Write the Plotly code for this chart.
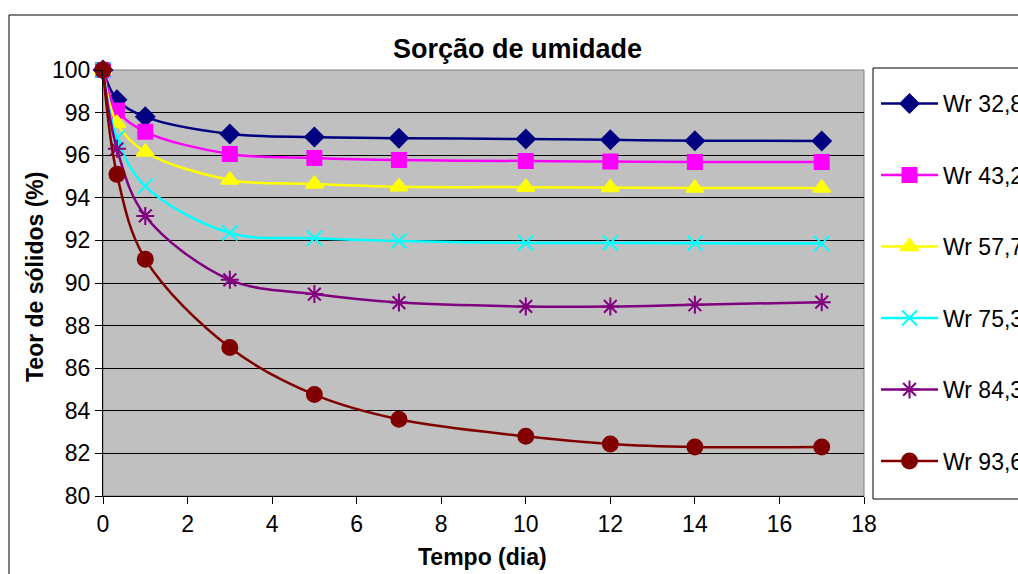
import plotly.graph_objects as go

days = [0, 0.33, 1, 3, 5, 7, 10, 12, 14, 17]
names = ["Wr 32,8", "Wr 43,2", "Wr 57,7", "Wr 75,3", "Wr 84,3", "Wr 93,6"]
wr_32_8 = [100, 98.6, 97.8, 97.0, 96.85, 96.8, 96.76, 96.72, 96.68, 96.67]
wr_43_2 = [100, 98.1, 97.1, 96.06, 95.87, 95.77, 95.73, 95.7, 95.68, 95.68]
wr_57_7 = [100, 97.5, 96.15, 94.84, 94.65, 94.52, 94.5, 94.48, 94.46, 94.46]
wr_75_3 = [100, 96.8, 94.55, 92.35, 92.1, 91.97, 91.88, 91.88, 91.87, 91.85]
wr_84_3 = [100, 96.3, 93.15, 90.15, 89.48, 89.08, 88.9, 88.9, 88.98, 89.1]
wr_93_6 = [100, 95.1, 91.12, 86.97, 84.76, 83.6, 82.8, 82.44, 82.3, 82.3]
series = [wr_32_8, wr_43_2, wr_57_7, wr_75_3, wr_84_3, wr_93_6]

colors = ["#000080", "#FF00FF", "#FFFF00", "#00FFFF", "#800080", "#800000"]
symbols = ["diamond", "square", "triangle-up", "x-thin-open", "asterisk-open", "circle"]
msizes = [14, 14, 15, 15, 15, 15]

W, H = 1018, 574
L, R, T, B = 103, 864, 70, 496
pw, ph = R - L, B - T

def px(x):
    return (x - L) / pw

def py(y):
    return (B - y) / ph

fig = go.Figure()
for i, (nm, ys) in enumerate(zip(names, series)):
    fig.add_trace(go.Scatter(
        x=days, y=ys, name=nm, mode="lines+markers",
        line=dict(color=colors[i], width=2.5, shape="spline", smoothing=1),
        marker=dict(symbol=symbols[i], size=msizes[i], color=colors[i],
                    line=dict(color=colors[i], width=2)),
        legendgroup=nm, cliponaxis=False,
    ))

font = "Arial, Liberation Sans, sans-serif"
fig.update_layout(
    width=W, height=H,
    margin=dict(l=L, r=W - R, t=T, b=H - B, pad=0, autoexpand=False),
    paper_bgcolor="white", plot_bgcolor="#C0C0C0",
    font=dict(family=font, size=23, color="black"),
    showlegend=True,
    legend=dict(x=px(876), y=py(82), xanchor="left", yanchor="top",
                bgcolor="rgba(0,0,0,0)", borderwidth=0,
                font=dict(size=23, family=font),
                tracegroupgap=38.6, itemwidth=57, traceorder="grouped"),
    xaxis=dict(range=[0, 18], dtick=2, tick0=0, showgrid=False, zeroline=False,
               showline=True, linecolor="black", linewidth=1,
               ticks="outside", ticklen=7, tickcolor="black",
               tickfont=dict(size=23, family=font)),
    yaxis=dict(range=[80, 100], dtick=2, tick0=80, showgrid=True, gridcolor="black",
               gridwidth=1, zeroline=False, showline=True, linecolor="black",
               linewidth=1, ticks="outside", ticklen=7, tickcolor="black",
               tickfont=dict(size=23, family=font)),
    shapes=[
        dict(type="rect", xref="paper", yref="paper", x0=0, x1=1, y0=0, y1=1,
             line=dict(color="#808080", width=1), layer="below"),
        dict(type="rect", xref="paper", yref="paper", x0=px(9), x1=px(1040),
             y0=py(600), y1=py(15), line=dict(color="black", width=1)),
        dict(type="rect", xref="paper", yref="paper", x0=px(873), x1=px(1040),
             y0=py(499), y1=py(68), line=dict(color="black", width=1)),
    ],
    annotations=[
        dict(text="<b>Sorção de umidade</b>", xref="paper", yref="paper",
             x=px(517.5), y=py(49), xanchor="center", yanchor="middle",
             showarrow=False, font=dict(size=27, family=font)),
        dict(text="<b>Tempo (dia)</b>", xref="paper", yref="paper",
             x=px(482.5), y=py(557), xanchor="center", yanchor="middle",
             showarrow=False, font=dict(size=23, family=font)),
        dict(text="<b>Teor de sólidos (%)</b>", xref="paper", yref="paper",
             x=px(35), y=py(277), xanchor="center", yanchor="middle",
             textangle=-90, showarrow=False, font=dict(size=23, family=font)),
    ],
)

fig.write_html("out.html")
